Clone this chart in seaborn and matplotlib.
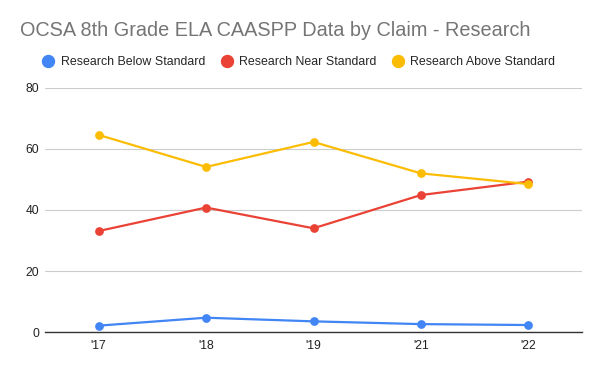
import matplotlib
matplotlib.use("Agg")
import matplotlib.pyplot as plt
import seaborn as sns
import pandas as pd
from matplotlib.lines import Line2D

years = ["'17", "'18", "'19", "'21", "'22"]
below = [2.1, 4.7, 3.5, 2.6, 2.3]
near = [33.1, 40.8, 34.0, 44.9, 49.3]
above = [64.6, 54.1, 62.3, 52.0, 48.5]
series = ["Research Below Standard", "Research Near Standard", "Research Above Standard"]
colors = ["#4285F4", "#EA4335", "#FBBC04"]
yticks = [0, 20, 40, 60, 80]

rows = []
for name, vals in zip(series, [below, near, above]):
    for i, (yr, v) in enumerate(zip(years, vals)):
        rows.append({"pos": i, "year": yr, "value": v, "series": name})
df = pd.DataFrame(rows)

sns.set_style("white")
plt.rcParams["font.family"] = ["Liberation Sans", "DejaVu Sans"]

fig = plt.figure(figsize=(6, 3.71), dpi=100)
ax = fig.add_axes([0.075, 0.105, 0.895, 0.658])

sns.lineplot(data=df, x="pos", y="value", hue="series", hue_order=series,
             palette=colors, marker="o", markersize=6.3, markeredgewidth=0,
             linewidth=1.6, legend=False, ax=ax)

ax.set_xlim(-0.5, len(years) - 0.5)
ax.set_ylim(0, 80)
ax.set_xticks(range(len(years)))
ax.set_xticklabels(years)
ax.set_yticks(yticks)
ax.set_xlabel("")
ax.set_ylabel("")
ax.tick_params(axis="both", length=0, labelsize=8.7, colors="#222222")
ax.tick_params(axis="y", pad=4)
ax.tick_params(axis="x", pad=6)
ax.grid(axis="y", color="#cccccc", linewidth=0.8)
ax.set_axisbelow(True)
for s in ["top", "right", "left"]:
    ax.spines[s].set_visible(False)
ax.spines["bottom"].set_color("#333333")
ax.spines["bottom"].set_linewidth(1)

fig.text(0.033, 0.919, "OCSA 8th Grade ELA CAASPP Data by Claim - Research",
         fontsize=14.3, color="#757575", ha="left", va="center")

handles = [Line2D([], [], marker="o", linestyle="", color=c, markersize=8.6) for c in colors]
fig.legend(handles, series, loc="center", bbox_to_anchor=(0.498, 0.833), ncol=3,
           frameon=False, fontsize=8.9, handlelength=1.0, handletextpad=0.5,
           columnspacing=1.25)

fig.savefig("out.png", dpi=100)
